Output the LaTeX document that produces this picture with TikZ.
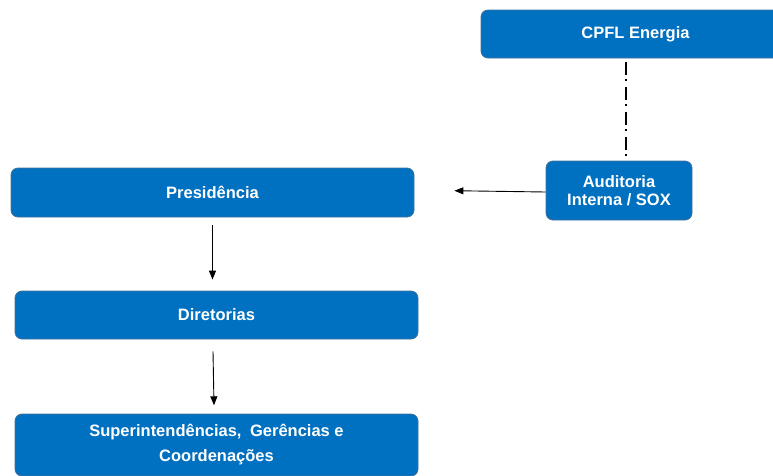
\documentclass[tikz,border=0pt]{standalone}
\usepackage{fontspec}
\setmainfont{Liberation Sans}
\usetikzlibrary{arrows.meta}
\definecolor{boxblue}{HTML}{0070C0}
\definecolor{boxline}{HTML}{41719C}
\begin{document}
\begin{tikzpicture}[x=1pt,y=-1pt,
  orgbox/.style={draw=boxline, line width=0.8pt, fill=boxblue, rounded corners=7pt,
    text=white, font=\bfseries\fontsize{16.5}{18.3}\selectfont, align=center, inner sep=0pt},
  conn/.style={line width=0.9pt, -{Triangle[length=9pt,width=7pt]}},
  dashdotline/.style={line width=1.4pt, dash pattern=on 12.5pt off 4.5pt on 1.5pt off 6.5pt}
  ]
\useasboundingbox (0,0) rectangle (773,475);
\node[orgbox, minimum width=309pt, minimum height=48pt] (cpfl) at (635.5,34) {CPFL Energia};
\node[orgbox, minimum width=146pt, minimum height=59pt] (aud) at (619,190.5) {Auditoria\\Interna / SOX};
\node[orgbox, minimum width=403pt, minimum height=49pt] (pres) at (212.5,192.5) {Presidência};
\node[orgbox, minimum width=403pt, minimum height=48pt] (dir) at (216.5,315) {Diretorias};
\node[orgbox, minimum width=403pt, minimum height=62pt, font=\bfseries\fontsize{16.5}{25}\selectfont] (sup) at (216.5,445)
  {Superintendências,\hspace{4pt} Gerências e\\Coordenações};
% connectors
\draw[dashdotline] ([xshift=7pt,yshift=-3.7pt]aud.north |- cpfl.south) -- ([xshift=7pt,yshift=1pt]aud.north);
\draw[conn] ([yshift=-1.5pt]aud.west) -- ([xshift=40pt,yshift=1.8pt]pres.east);
\draw[conn] ([yshift=-8pt]pres.south) -- ([yshift=11pt]pres.south |- dir.north);
\draw[conn] ([xshift=-3.5pt,yshift=-12pt]dir.south) -- ([xshift=-2.5pt,yshift=8.3pt]sup.north);
\end{tikzpicture}
\end{document}
